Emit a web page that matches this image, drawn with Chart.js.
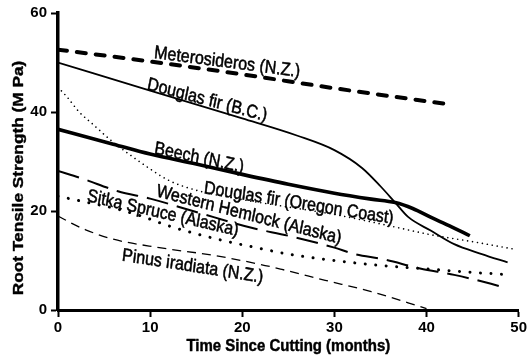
<!DOCTYPE html>
<html>
<head>
<meta charset="utf-8">
<script src="https://cdn.jsdelivr.net/npm/chart.js@4/dist/chart.umd.min.js"></script>
<style>
  html, body { margin: 0; padding: 0; background: #fff; }
  canvas { display: block; }
</style>
</head>
<body>
<canvas id="c" width="529" height="356"></canvas>
<script>
// ---------- data (months since cutting, root tensile strength in MPa) ----------
const xTickValues = [0, 10, 20, 30, 40, 50];
const yTickValues = [0, 20, 40, 60];

const seriesNames = [
  'Meterosideros (N.Z.)',
  'Douglas fir (B.C.)',
  'Beech (N.Z.)',
  'Douglas fir (Oregon Coast)',
  'Western Hemlock (Alaska)',
  'Sitka Spruce (Alaska)',
  'Pinus iradiata (N.Z.)'
];

const meteroMonths = [0, 10, 20, 30, 42.6];
const meteroMPa    = [52.6, 50.2, 47.6, 44.8, 41.5];

const dfBCMonths = [0, 10, 20, 26, 30, 33, 35, 36.6, 38, 40.5, 43, 46, 48.8];
const dfBCMPa    = [50, 44.3, 38.7, 35.2, 32.3, 28.7, 25, 21.7, 18.8, 16, 13.3, 11.3, 9.6];

const beechMonths = [0, 3, 6, 10, 15, 20, 25, 30, 34, 36.6, 38.5, 40.5, 42.5, 44.7];
const beechMPa    = [36.5, 35, 33.5, 31.5, 29.5, 27.4, 25.4, 23.6, 22.4, 21.7, 20.5, 18.7, 17, 15];

const dfOCMonths = [0, 1, 2.3, 3.8, 5.6, 7.7, 10, 12, 15, 20, 25, 30, 36, 40.5, 45, 49.5];
const dfOCMPa    = [45, 43, 40, 37.5, 34.5, 31.5, 28.5, 26.2, 24.2, 22.3, 20.8, 19.3, 17, 15.2, 13.8, 12.3];

const hemMonths = [0, 2.7, 6.5, 10, 15, 21, 25, 30, 32, 35.4, 39.3, 43, 47, 48.5];
const hemMPa    = [28.1, 26.5, 24, 22.5, 19.8, 16.6, 15, 12.6, 11.4, 10.2, 8.4, 7.1, 5.3, 4.5];

const sitkaMonths = [0, 3, 6, 9, 12, 15, 18, 21, 25, 30, 35, 40, 45, 48.5];
const sitkaMPa    = [23, 21.8, 20.6, 19, 17, 15.4, 14, 12.8, 11.3, 10, 9, 8.3, 7.6, 7.2];

const pinusMonths = [0, 1.5, 3, 6, 11, 17, 22, 24.3, 29, 34, 40];
const pinusMPa    = [19, 17.5, 16.2, 14.3, 12.6, 11, 9.2, 8.2, 6, 3.7, 0.3];

const xTitle = 'Time Since Cutting (months)';
const yTitle = 'Root Tensile Strength (M Pa)';

// ---------- layout / style (kept separate from data) ----------
// label anchors in data space: [month, MPa, angle in degrees as seen on screen]
const labelAnchors = [
  [10.4, 50.9, 7.4],
  [9.6, 44.6, 15],
  [10.4, 31.6, 12],
  [15.8, 23.6, 9.2],
  [10.6, 23.0, 14.5],
  [3.1, 22.0, 13],
  [6.9, 10.0, 9]
];
const STRETCH = 1.15; // the scanned original is slightly taller than wide
const FONT = '"Liberation Sans", Arial, Helvetica, sans-serif';

function pts(xs, ys) { return xs.map((x, i) => ({ x: x, y: ys[i] })); }

const styles = [
  { borderWidth: 4,   borderDash: [9, 10],   borderCapStyle: 'round' },
  { borderWidth: 1.8, borderDash: [],        borderCapStyle: 'butt' },
  { borderWidth: 3.6, borderDash: [],        borderCapStyle: 'butt' },
  { borderWidth: 1.6, borderDash: [0.01, 5], borderCapStyle: 'round' },
  { borderWidth: 2,   borderDash: [22, 9],   borderCapStyle: 'butt' },
  { borderWidth: 3,   borderDash: [0.01, 10.5], borderCapStyle: 'round' },
  { borderWidth: 1.3, borderDash: [9, 6],    borderCapStyle: 'butt' }
];

const seriesData = [
  pts(meteroMonths, meteroMPa),
  pts(dfBCMonths, dfBCMPa),
  pts(beechMonths, beechMPa),
  pts(dfOCMonths, dfOCMPa),
  pts(hemMonths, hemMPa),
  pts(sitkaMonths, sitkaMPa),
  pts(pinusMonths, pinusMPa)
];

const datasets = seriesData.map((d, i) => Object.assign({
  label: seriesNames[i],
  data: d,
  borderColor: '#000',
  backgroundColor: '#000',
  pointRadius: 0,
  fill: false,
  tension: 0.4,
  cubicInterpolationMode: 'monotone',
  borderJoinStyle: 'round'
}, styles[i]));

const textPlugin = {
  id: 'textPlugin',
  afterDraw(chart) {
    const ctx = chart.ctx;
    const xs = chart.scales.x, ys = chart.scales.y;
    const area = chart.chartArea;
    ctx.save();
    ctx.fillStyle = '#000';
    ctx.strokeStyle = '#000';
    ctx.lineJoin = 'round';
    // curve labels
    ctx.font = '16px ' + FONT;
    ctx.textAlign = 'left';
    ctx.textBaseline = 'alphabetic';
    seriesNames.forEach((name, i) => {
      const a = labelAnchors[i];
      const px = xs.getPixelForValue(a[0]);
      const py = ys.getPixelForValue(a[1]);
      const ang = Math.atan(Math.tan(a[2] * Math.PI / 180) / STRETCH);
      ctx.save();
      ctx.translate(px, py);
      ctx.scale(1, STRETCH);
      ctx.rotate(ang);
      ctx.lineWidth = 0.45;
      ctx.fillText(name, 0, 0);
      ctx.strokeText(name, 0, 0);
      ctx.restore();
    });
    // x axis title
    ctx.font = 'bold 15px ' + FONT;
    ctx.textAlign = 'center';
    ctx.save();
    ctx.translate((area.left + area.right) / 2, 351);
    ctx.scale(1, STRETCH);
    ctx.lineWidth = 0.4;
    ctx.fillText(xTitle, 0, 0);
    ctx.strokeText(xTitle, 0, 0);
    ctx.restore();
    // y axis title
    ctx.save();
    ctx.translate(23, 178);
    ctx.scale(1, STRETCH);
    ctx.rotate(-Math.PI / 2);
    ctx.lineWidth = 0.4;
    ctx.fillText(yTitle, 0, 0);
    ctx.strokeText(yTitle, 0, 0);
    ctx.restore();
    ctx.restore();
  }
};

const tickFont = { family: FONT, size: 15, weight: 'bold' };

new Chart(document.getElementById('c'), {
  type: 'line',
  data: { datasets: datasets },
  plugins: [textPlugin],
  options: {
    responsive: false,
    devicePixelRatio: 1,
    animation: false,
    layout: { padding: { top: 13, right: 8, left: 0, bottom: 0 } },
    plugins: { legend: { display: false }, tooltip: { enabled: false } },
    scales: {
      x: {
        type: 'linear',
        min: xTickValues[0],
        max: xTickValues[xTickValues.length - 1],
        afterBuildTicks: s => { s.ticks = xTickValues.map(v => ({ value: v })); },
        afterFit: s => { s.height = 46; },
        ticks: { font: tickFont, color: '#000', padding: 2, maxRotation: 0, autoSkip: false },
        grid: { drawOnChartArea: false, drawTicks: true, tickLength: 7, tickWidth: 2, tickColor: '#000' },
        border: { display: true, color: '#000', width: 3 }
      },
      y: {
        type: 'linear',
        min: yTickValues[0],
        max: yTickValues[yTickValues.length - 1],
        afterBuildTicks: s => { s.ticks = yTickValues.map(v => ({ value: v })); },
        afterFit: s => { s.width = 58; },
        ticks: { font: tickFont, color: '#000', padding: 4, autoSkip: false },
        grid: { drawOnChartArea: false, drawTicks: true, tickLength: 7, tickWidth: 2, tickColor: '#000' },
        border: { display: true, color: '#000', width: 3.5 }
      }
    }
  }
});
</script>
</body>
</html>
